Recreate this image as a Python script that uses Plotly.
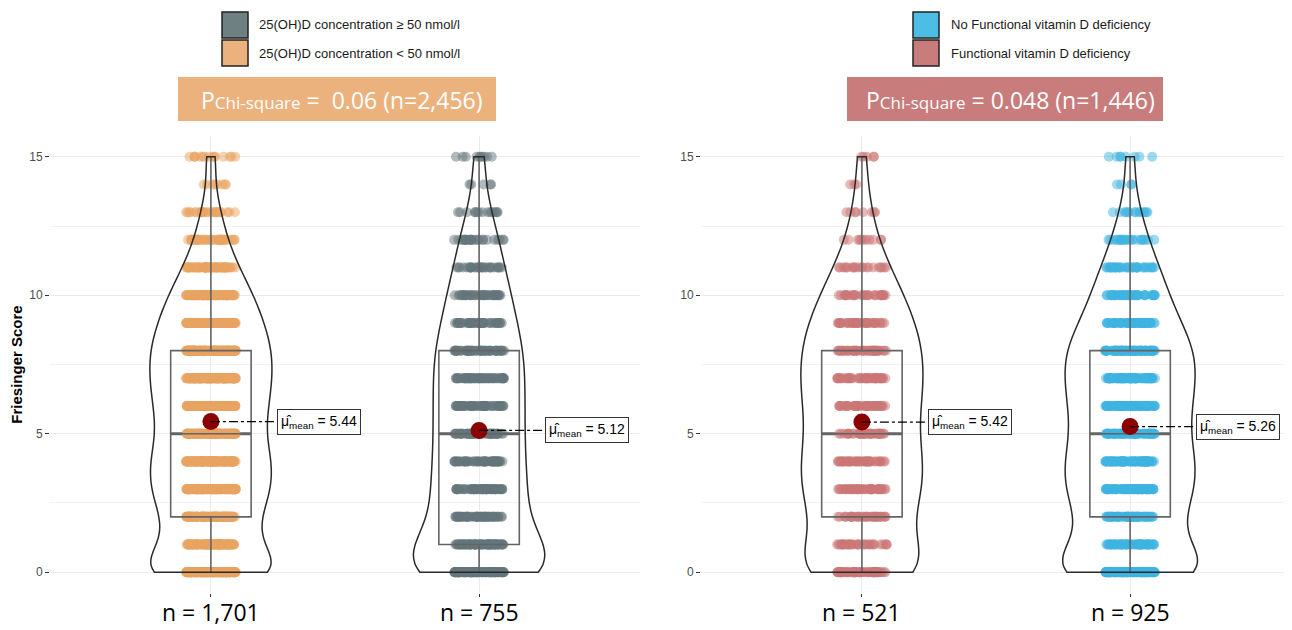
import numpy as np
import plotly.graph_objects as go

# page body has an 8px margin: figure is drawn at (8, 8)
OFF = 8
W, H = 1292 - OFF, 630 - OFF

# ---------------- data ----------------
scores = list(range(16))  # Friesinger score 0..15

# counts of patients per score (read/estimated from the picture)
counts_lt50 = [210, 110, 120, 150, 150, 130, 140, 150, 150, 130, 105, 68, 40, 25, 8, 15]   # n = 1,701
counts_ge50 = [120, 75, 55, 60, 55, 55, 55, 55, 55, 45, 40, 30, 25, 15, 5, 10]               # n = 755
counts_fvdd = [65, 34, 37, 46, 46, 40, 43, 46, 45, 40, 31, 21, 11, 8, 3, 5]                  # n = 521
counts_nofvdd = [131, 60, 65, 82, 82, 71, 76, 81, 82, 62, 48, 37, 22, 14, 4, 8]              # n = 925

left_groups = ["25(OH)D concentration < 50 nmol/l", "25(OH)D concentration ≥ 50 nmol/l"]
right_groups = ["Functional vitamin D deficiency", "No Functional vitamin D deficiency"]
left_counts = [counts_lt50, counts_ge50]
right_counts = [counts_fvdd, counts_nofvdd]
left_n_labels = ["n = 1,701", "n = 755"]
right_n_labels = ["n = 521", "n = 925"]
left_p_text = "=  0.06 (n=2,456)"
right_p_text = "= 0.048 (n=1,446)"

y_ticks = [0, 5, 10, 15]
y_minor_ticks = [2.5, 7.5, 12.5]

# ---------------- style ----------------
left_point_colors = ["rgba(233,163,98,0.5)", "rgba(100,118,124,0.5)"]
right_point_colors = ["rgba(204,118,118,0.5)", "rgba(62,180,225,0.5)"]
left_swatch = {"25(OH)D concentration ≥ 50 nmol/l": "#6F8082", "25(OH)D concentration < 50 nmol/l": "#ECB27E"}
right_swatch = {"No Functional vitamin D deficiency": "#4CBEE6", "Functional vitamin D deficiency": "#C97C7C"}
left_violin_w = [0.455, 0.49]
right_violin_w = [0.455, 0.50]
banner_left_color = "#ECB27E"
banner_right_color = "#C97C7C"
FONT = "Liberation Sans"
NFONT = "Open Sans"
BOX_W = 0.3


def X(px):
    return (px - OFF) / W


def Y(py):
    return 1 - (py - OFF) / H


fig = go.Figure()
shapes = []
annotations = []

panels = [
    ("x", "y", left_counts, left_point_colors, left_violin_w, left_n_labels),
    ("x2", "y2", right_counts, right_point_colors, right_violin_w, right_n_labels),
]

for xa, ya, cnts, pcols, vws, nlabs in panels:
    for i, c in enumerate(cnts):
        y = np.repeat(scores, c)
        n = len(y)
        sd = y.std(ddof=1)
        iqr = np.percentile(y, 75) - np.percentile(y, 25)
        bw = 0.9 * min(sd, iqr / 1.34) * n ** (-0.2)
        # jittered points
        fig.add_trace(go.Box(
            y=y, x0=i, xaxis=xa, yaxis=ya, boxpoints="all", jitter=0.62, pointpos=0,
            width=BOX_W, marker=dict(size=10, color=pcols[i], line=dict(width=0)),
            line=dict(width=0), fillcolor="rgba(0,0,0,0)", showlegend=False,
            hoverinfo="skip", zorder=1))
        # box outline
        fig.add_trace(go.Box(
            y=y, x0=i, xaxis=xa, yaxis=ya, boxpoints=False, width=BOX_W, whiskerwidth=0,
            line=dict(color="#646464", width=1.6), fillcolor="rgba(0,0,0,0)",
            showlegend=False, hoverinfo="skip", zorder=2))
        # violin
        fig.add_trace(go.Violin(
            y=y, x0=i, xaxis=xa, yaxis=ya, points=False, width=vws[i], scalemode="width",
            spanmode="hard", bandwidth=bw, line=dict(color="#2A2A2A", width=1.5),
            fillcolor="rgba(0,0,0,0)", box=dict(visible=False), meanline=dict(visible=False),
            showlegend=False, hoverinfo="skip", zorder=3))
        m = float(y.mean())
        med = float(np.median(y))
        fig.add_trace(go.Scatter(
            x=[i], y=[m], xaxis=xa, yaxis=ya, mode="markers",
            marker=dict(size=17, color="#8B0000"), showlegend=False, hoverinfo="skip", zorder=4))
        # thicker median line (as in ggplot boxplot)
        shapes.append(dict(type="line", xref=xa, yref=ya, x0=i - BOX_W / 2, x1=i + BOX_W / 2,
                           y0=med, y1=med, line=dict(color="#646464", width=3), layer="below"))
        shapes.append(dict(type="line", xref=xa, yref=ya, x0=i, x1=i + 0.245, y0=m, y1=m,
                           line=dict(color="black", width=1.3, dash="dashdot"), layer="above"))
        annotations.append(dict(
            xref=xa, yref=ya, x=i + 0.245, y=m, xanchor="left", yanchor="middle",
            text="μ̂<sub>mean</sub> = %.2f" % m, showarrow=False,
            font=dict(family=FONT, size=14, color="black"),
            bgcolor="white", bordercolor="#333333", borderwidth=1, borderpad=3))
        # sample-size labels under each group
        annotations.append(dict(
            xref=xa, yref="paper", x=i, y=Y(612), xanchor="center", yanchor="middle",
            text=nlabs[i], showarrow=False, font=dict(family=NFONT, size=23, color="black")))

axis_common_x = dict(range=[-0.6, 1.6], tickvals=[0, 1], showgrid=True, gridcolor="#EBEBEB",
                     gridwidth=1, zeroline=False, ticks="outside", ticklen=3, tickcolor="#333333",
                     showticklabels=False, showline=False, automargin=False, fixedrange=True)
axis_common_y = dict(range=[-0.75, 15.75], tickvals=y_ticks, showgrid=True, gridcolor="#EBEBEB",
                     gridwidth=1, zeroline=False, ticks="outside", ticklen=4, tickcolor="#333333",
                     tickfont=dict(family=FONT, size=12, color="#4D4D4D"), showline=False,
                     minor=dict(tickvals=y_minor_ticks, showgrid=True, gridcolor="#F2F2F2", ticks=""),
                     automargin=False, fixedrange=True, domain=[Y(593), Y(136)])

fig.update_layout(
    xaxis=dict(axis_common_x, domain=[X(50), X(640)], anchor="y"),
    yaxis=dict(axis_common_y, anchor="x",
               title=dict(text="<b>Friesinger Score</b>", standoff=3,
                          font=dict(family=FONT, size=15, color="black"))),
    xaxis2=dict(axis_common_x, domain=[X(701), X(1291)], anchor="y2"),
    yaxis2=dict(axis_common_y, anchor="x2"),
)

# ---------------- legends (drawn) ----------------
legend_specs = [
    (222, 257, [left_groups[1], left_groups[0]], left_swatch),
    (913, 949, [right_groups[1], right_groups[0]], right_swatch),
]
for sx, tx, names, sw in legend_specs:
    for k, name in enumerate(names):
        top = 12 + k * 28
        shapes.append(dict(type="rect", xref="paper", yref="paper", x0=X(sx), x1=X(sx + 26),
                           y0=Y(top + 26), y1=Y(top), fillcolor=sw[name],
                           line=dict(color="#222222", width=1.5), layer="above"))
        annotations.append(dict(xref="paper", yref="paper", x=X(tx), y=Y(top + 13),
                                xanchor="left", yanchor="middle", text=name, showarrow=False,
                                font=dict(family=FONT, size=13, color="#1A1A1A")))

# ---------------- p-value banners ----------------
banners = [(178, 496, banner_left_color, left_p_text), (847, 1163, banner_right_color, right_p_text)]
for x0, x1, col, txt in banners:
    shapes.append(dict(type="rect", xref="paper", yref="paper", x0=X(x0), x1=X(x1),
                       y0=Y(121), y1=Y(77), fillcolor=col, line=dict(width=0), layer="below"))
    annotations.append(dict(
        xref="paper", yref="paper", x=X((x0 + x1) / 2 + 5), y=Y(100), xanchor="center",
        yanchor="middle", showarrow=False,
        text="P<span style='font-size:17px'>Chi-square</span> " + txt,
        font=dict(family=NFONT, size=23, color="white")))

fig.update_layout(
    width=W, height=H, margin=dict(l=0, r=0, t=0, b=0),
    paper_bgcolor="white", plot_bgcolor="white",
    boxmode="overlay", violinmode="overlay", showlegend=False,
    shapes=shapes, annotations=annotations,
)

fig.write_html("out.html")
